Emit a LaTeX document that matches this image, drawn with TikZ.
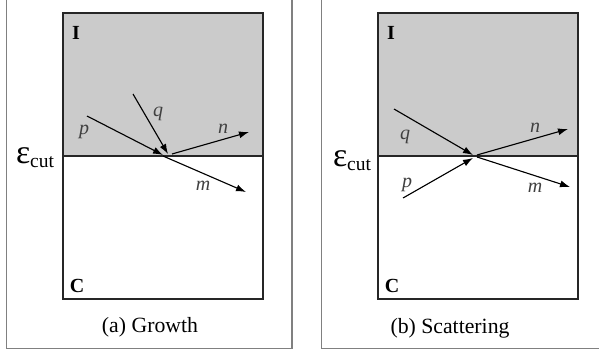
\documentclass[tikz,border=0pt]{standalone}
\usepackage{fontspec}
\setmainfont{Liberation Serif}
\usetikzlibrary{arrows.meta}
\definecolor{FrameGray}{HTML}{808080}
\definecolor{ZoneGray}{HTML}{CBCBCB}
\newcommand{\ecut}{{\fontsize{13.5}{15}\selectfont ε}\raisebox{-1.6pt}{\fontsize{7.8}{9}\selectfont cut}}
\tikzset{
  panelbox/.style = {draw=FrameGray, line width=0.6pt},
  zone/.style     = {draw=black!85, line width=0.5pt},
  upper/.style    = {fill=ZoneGray},
  vec/.style      = {-{Latex[length=4pt,width=2.8pt]}, line width=0.45pt},
  vlbl/.style     = {font=\fontsize{8}{9}\selectfont\itshape, text=black!75, inner sep=0pt},
  tag/.style      = {font=\fontsize{8}{9}\selectfont\bfseries, inner sep=0pt},
  cutlbl/.style   = {inner sep=0pt},
  capt/.style     = {font=\fontsize{8.7}{10}\selectfont, inner sep=0pt},
}

\begin{document}
\begin{tikzpicture}[x=0.4pt, y=-0.4pt]
  \useasboundingbox (0,0) rectangle (599,353);
  % outer frames
  \draw[panelbox] (6.5,-5) rectangle (292,348.5);
  \draw[panelbox] (321.5,-5) rectangle (610,348.5);

  % (a) growth
  \fill[upper] (63,13) rectangle (263,156);
  \draw[zone] (63,13) rectangle (263,299);
  \draw[zone] (63,156) -- (263,156);
  \node[tag] (ia) at (76,33) {I};
  \node[tag] (ca) at (77,286) {C};
  \node[cutlbl] (ea) at (35,158) {\ecut};
  \node[capt] (capa) at (150,327) {(a) Growth};

  \coordinate (pa0) at (87,116);  \coordinate (pa1) at (163,155);
  \coordinate (qa0) at (133,94);  \coordinate (qa1) at (168,154);
  \coordinate (na0) at (172,154); \coordinate (na1) at (249,132);
  \coordinate (ma0) at (163,156); \coordinate (ma1) at (246,192);
  \draw[vec] (pa0) -- (pa1);
  \draw[vec] (qa0) -- (qa1);
  \draw[vec] (na0) -- (na1);
  \draw[vec] (ma0) -- (ma1);
  \node[vlbl] (lpa) at (84,132) {p};
  \node[vlbl] (lqa) at (158,114) {q};
  \node[vlbl] (lna) at (223,129) {n};
  \node[vlbl] (lma) at (203,186) {m};

  % (b) scattering
  \fill[upper] (378,13) rectangle (578,156);
  \draw[zone] (378,13) rectangle (578,299);
  \draw[zone] (378,156) -- (578,156);
  \node[tag] (ib) at (391,33) {I};
  \node[tag] (cb) at (392,286) {C};
  \node[cutlbl] (eb) at (352,161) {\ecut};
  \node[capt] (capb) at (450,328) {(b) Scattering};

  \coordinate (qb0) at (394,109); \coordinate (qb1) at (473,155);
  \coordinate (pb0) at (403,198); \coordinate (pb1) at (473,158);
  \coordinate (nb0) at (477,155); \coordinate (nb1) at (568,129);
  \coordinate (mb0) at (477,157); \coordinate (mb1) at (570,187);
  \draw[vec] (qb0) -- (qb1);
  \draw[vec] (pb0) -- (pb1);
  \draw[vec] (nb0) -- (nb1);
  \draw[vec] (mb0) -- (mb1);
  \node[vlbl] (lqb) at (405,137) {q};
  \node[vlbl] (lpb) at (407,185) {p};
  \node[vlbl] (lnb) at (535,128) {n};
  \node[vlbl] (lmb) at (535,188) {m};
\end{tikzpicture}
\end{document}
